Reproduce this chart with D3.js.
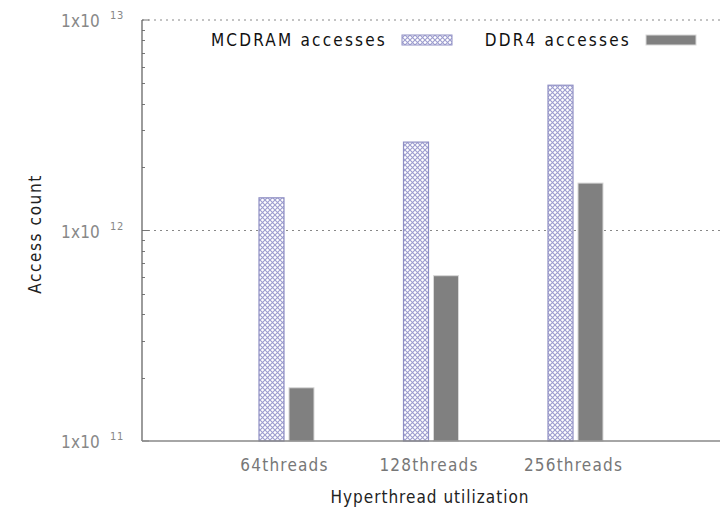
<!DOCTYPE html>
<html>
<head>
<meta charset="utf-8">
<script src="https://cdn.jsdelivr.net/npm/d3@7"></script>
<style>
  body { margin: 0; background: #fff; }
  text { font-family: "Liberation Sans Narrow", "DejaVu Sans Condensed", "Liberation Sans", sans-serif; }
</style>
</head>
<body>
<div id="chart"></div>
<script>
// data
var categories = ['64threads', '128threads', '256threads']
var mcdram = [1.43e12, 2.63e12, 4.9e12]
var ddr4 = [1.79e11, 6.1e11, 1.68e12]
var yTicks = [1e11, 1e12, 1e13]
var seriesNames = ['MCDRAM accesses', 'DDR4 accesses']

var width = 726
var height = 511
var padding = {top: 20, left: 142, right: 6, bottom: 70}

var svg = d3.select('#chart').append('svg')
  .attr('width', width)
  .attr('height', height)

// 交叉网格填充
var defs = svg.append('defs')
var pat = defs.append('pattern')
  .attr('id', 'xhatch')
  .attr('patternUnits', 'userSpaceOnUse')
  .attr('width', 5)
  .attr('height', 5)
pat.append('rect').attr('width', 5).attr('height', 5).attr('fill', '#fff')
pat.append('path')
  .attr('d', 'M0,0L5,5M5,0L0,5')
  .attr('stroke', '#9d9dcf')
  .attr('stroke-width', 1.1)

var x = d3.scaleLinear()
  .domain([-1, categories.length])
  .range([padding.left, width - padding.right])
var y = d3.scaleLog()
  .domain([1e11, 1e13])
  .range([height - padding.bottom, padding.top])

var barW = 25
var off = 15

// 网格线
svg.selectAll('line.grid')
  .data(yTicks.slice(1))
  .enter()
  .append('line')
  .attr('x1', padding.left)
  .attr('x2', width - padding.right)
  .attr('y1', function (d) { return y(d) })
  .attr('y2', function (d) { return y(d) })
  .attr('stroke', '#888')
  .attr('stroke-dasharray', '2,4')

// minor ticks
var minor = []
for (var e = 11; e < 13; e++) {
  for (var m = 2; m < 10; m++) minor.push(m * Math.pow(10, e))
}
svg.selectAll('line.minor')
  .data(minor)
  .enter()
  .append('line')
  .attr('x1', padding.left)
  .attr('x2', padding.left + 3)
  .attr('y1', function (d) { return Math.round(y(d)) + 0.5 })
  .attr('y2', function (d) { return Math.round(y(d)) + 0.5 })
  .attr('stroke', '#777')
svg.selectAll('line.major')
  .data(yTicks)
  .enter()
  .append('line')
  .attr('x1', padding.left)
  .attr('x2', padding.left + 7)
  .attr('y1', function (d) { return y(d) })
  .attr('y2', function (d) { return y(d) })
  .attr('stroke', '#777')

// 柱状图
svg.selectAll('rect.mc')
  .data(mcdram)
  .enter()
  .append('rect')
  .attr('x', function (d, i) { return x(i) - off - barW / 2 })
  .attr('y', function (d) { return y(d) })
  .attr('width', barW)
  .attr('height', function (d) { return y(1e11) - y(d) })
  .attr('fill', 'url(#xhatch)')
  .attr('stroke', '#8f8fc4')
  .attr('stroke-width', 1.2)

svg.selectAll('rect.ddr')
  .data(ddr4)
  .enter()
  .append('rect')
  .attr('x', function (d, i) { return x(i) + off - barW / 2 })
  .attr('y', function (d) { return y(d) })
  .attr('width', barW)
  .attr('height', function (d) { return y(1e11) - y(d) })
  .attr('fill', '#808080')
  .attr('stroke', '#d8d8d8')
  .attr('stroke-width', 1)

// axes
svg.append('line')
  .attr('x1', padding.left).attr('x2', padding.left)
  .attr('y1', y(1e13)).attr('y2', y(1e11))
  .attr('stroke', '#666').attr('stroke-width', 1.3)
svg.append('line')
  .attr('x1', padding.left).attr('x2', width - padding.right)
  .attr('y1', y(1e11)).attr('y2', y(1e11))
  .attr('stroke', '#888').attr('stroke-width', 1.5)

// y tick labels 1x10^n
var yl = svg.selectAll('g.ylab')
  .data(yTicks)
  .enter()
  .append('g')
  .attr('transform', function (d) { return 'translate(0,' + y(d) + ')' })
yl.append('text')
  .attr('x', 100)
  .attr('y', 7)
  .attr('text-anchor', 'end')
  .attr('font-size', '17px')
  .attr('letter-spacing', '0.2px')
  .attr('fill', '#888')
  .text('1x10')
yl.append('text')
  .attr('x', 110)
  .attr('y', -1)
  .attr('font-size', '11px')
  .attr('letter-spacing', '0.8px')
  .attr('fill', '#888')
  .text(function (d) { return Math.round(Math.log10(d)) })

// x tick labels
svg.selectAll('text.xlab')
  .data(categories)
  .enter()
  .append('text')
  .attr('x', function (d, i) { return x(i) - 2 })
  .attr('y', 471)
  .attr('text-anchor', 'middle')
  .attr('font-size', '17px')
  .attr('letter-spacing', '1.2px')
  .attr('fill', '#777')
  .text(function (d) { return d })

// axis titles
svg.append('text')
  .attr('transform', 'translate(41,234) rotate(-90)')
  .attr('text-anchor', 'middle')
  .attr('font-size', '17px')
  .attr('letter-spacing', '1.6px')
  .attr('fill', '#222')
  .text('Access count')
svg.append('text')
  .attr('x', 430)
  .attr('y', 503)
  .attr('text-anchor', 'middle')
  .attr('font-size', '17px')
  .attr('letter-spacing', '1px')
  .attr('fill', '#222')
  .text('Hyperthread utilization')

// legend
var legendEnd = [387, 631]
var legendKey = [402, 646]
var lg = svg.selectAll('g.legend')
  .data(seriesNames)
  .enter()
  .append('g')
lg.append('text')
  .attr('x', function (d, i) { return legendEnd[i] })
  .attr('y', 46)
  .attr('text-anchor', 'end')
  .attr('font-size', '17px')
  .attr('letter-spacing', '2.2px')
  .attr('fill', '#111')
  .text(function (d) { return d })
lg.append('rect')
  .attr('x', function (d, i) { return legendKey[i] })
  .attr('y', 35)
  .attr('width', 50)
  .attr('height', 10)
  .attr('fill', function (d, i) { return i === 0 ? 'url(#xhatch)' : '#808080' })
  .attr('stroke', function (d, i) { return i === 0 ? '#8f8fc4' : '#d8d8d8' })
</script>
</body>
</html>
